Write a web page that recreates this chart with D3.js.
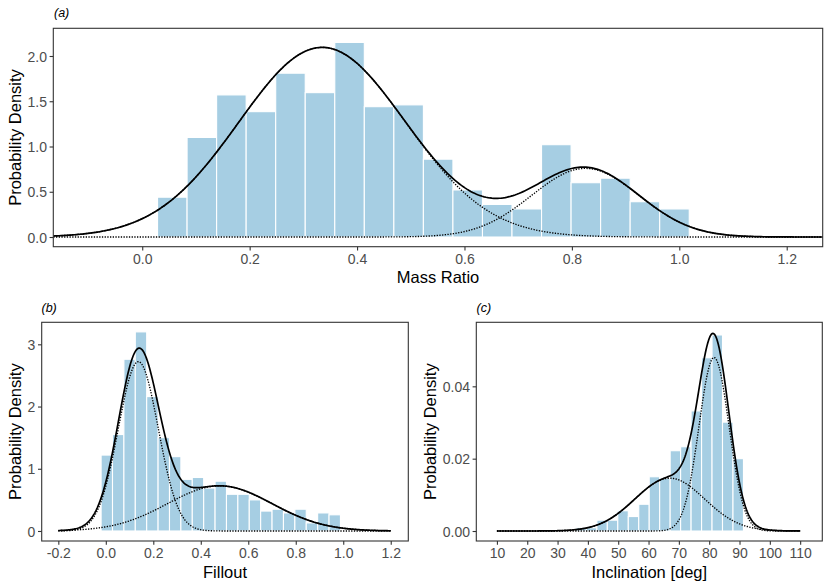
<!DOCTYPE html>
<html>
<head>
<meta charset="utf-8">
<script src="https://cdn.jsdelivr.net/npm/d3@7/dist/d3.min.js"></script>
<style>
  html, body { margin: 0; padding: 0; background: #fff; }
  svg { display: block; font-family: "Liberation Sans", Arial, Helvetica, sans-serif; }
</style>
</head>
<body>
<svg id="chart" width="830" height="588"></svg>
<script>
// ---------- Data ----------
// (a) Mass ratio histogram
const massBinEdges = [0.0285, 0.0835, 0.1385, 0.1935, 0.2485, 0.3035, 0.3585, 0.4135, 0.4685, 0.5235,
                      0.5785, 0.6335, 0.6885, 0.7435, 0.7985, 0.8535, 0.9085, 0.9635, 1.0185];
const massDensity = [0.44, 1.10, 1.57, 1.385, 1.81, 1.595, 2.15, 1.44, 1.46, 0.86,
                     0.52, 0.36, 0.31, 1.02, 0.60, 0.65, 0.39, 0.31];
const massComponents = [
  { mean: 0.335, sd: 0.155, weight: 0.814 },
  { mean: 0.825, sd: 0.100, weight: 0.190 }
];
const massTicksX = [0.0, 0.2, 0.4, 0.6, 0.8, 1.0, 1.2];
const massTicksY = [0.0, 0.5, 1.0, 1.5, 2.0];

// (b) Fillout histogram
const filloutBinEdges = [-0.0198, 0.0282, 0.0762, 0.1242, 0.1722, 0.2202, 0.2682, 0.3162, 0.3642, 0.4122,
                         0.4602, 0.5082, 0.5562, 0.6042, 0.6522, 0.7002, 0.7482, 0.7962, 0.8442, 0.8922,
                         0.9402, 0.9882];
const filloutDensity = [1.22, 1.55, 2.76, 3.20, 2.16, 1.50, 1.195, 0.83, 0.86, 0.69,
                        0.80, 0.59, 0.59, 0.50, 0.32, 0.35, 0.29, 0.35, 0.13, 0.29, 0.26];
const filloutComponents = [
  { mean: 0.137, sd: 0.084, weight: 0.573 },
  { mean: 0.480, sd: 0.220, weight: 0.400 }
];
const filloutTicksX = [-0.2, 0.0, 0.2, 0.4, 0.6, 0.8, 1.0, 1.2];
const filloutTicksY = [0, 1, 2, 3];

// (c) Inclination histogram
const incBinEdges = [36.05, 39.50, 42.96, 46.41, 49.86, 53.32, 56.77, 60.22, 63.67, 67.13,
                     70.58, 74.03, 77.49, 80.94, 84.39, 87.85, 91.30];
const incDensity = [0.0009, 0.0009, 0.0030, 0.0030, 0.0056, 0.0040, 0.0074, 0.0150, 0.0146, 0.0222,
                    0.0233, 0.0332, 0.0479, 0.0542, 0.0301, 0.0200];
const incComponents = [
  { mean: 67.0, sd: 11.5, weight: 0.421 },
  { mean: 81.6, sd: 4.94, weight: 0.594 }
];
const incTicksX = [10, 20, 30, 40, 50, 60, 70, 80, 90, 100, 110];
const incTicksY = [0.00, 0.02, 0.04];

// ---------- Drawing ----------
const svg = d3.select("#chart");
const BAR_FILL = "#a6cee3";
const FRAME = "#333333";
const TICKTXT = "#4d4d4d";

function normPdf(x, m, s) {
  return Math.exp(-0.5 * ((x - m) / s) ** 2) / (s * Math.sqrt(2 * Math.PI));
}
// plain hyphen-minus like the reference
const fmt = spec => { const f = d3.format(spec); return v => f(v).replace("\u2212", "-"); };

function drawPanel(cfg) {
  const g = svg.append("g");
  const x = d3.scaleLinear().domain(cfg.xDomain).range([cfg.left, cfg.right]);
  const y = d3.scaleLinear().domain(cfg.yDomain).range([cfg.bottom, cfg.top]);

  const clipId = "clip-" + cfg.tag.replace(/[()]/g, "");
  svg.append("clipPath").attr("id", clipId)
    .append("rect").attr("x", cfg.left).attr("y", cfg.top)
    .attr("width", cfg.right - cfg.left).attr("height", cfg.bottom - cfg.top);
  const plot = g.append("g").attr("clip-path", `url(#${clipId})`);

  // bars
  const bins = cfg.density.map((d, i) => ({ x0: cfg.edges[i], x1: cfg.edges[i + 1], v: d }));
  plot.selectAll("rect.bar").data(bins).enter().append("rect")
    .attr("class", "bar")
    .attr("x", d => x(d.x0))
    .attr("width", d => x(d.x1) - x(d.x0))
    .attr("y", d => y(d.v))
    .attr("height", d => y(0) - y(d.v))
    .attr("fill", BAR_FILL)
    .attr("stroke", "#ffffff")
    .attr("stroke-width", 1.1);

  // curves
  const n = 400;
  const xs = d3.range(n + 1).map(i => cfg.curveRange[0] + (cfg.curveRange[1] - cfg.curveRange[0]) * i / n);
  const line = d3.line().x(d => x(d[0])).y(d => y(d[1]));
  cfg.components.forEach(c => {
    const pts = xs.map(v => [v, c.weight * normPdf(v, c.mean, c.sd)]);
    plot.append("path").attr("d", line(pts))
      .attr("fill", "none").attr("stroke", "#000").attr("stroke-width", 1.35)
      .attr("stroke-dasharray", "1.3,1.4");
  });
  const totalPts = xs.map(v => [v, d3.sum(cfg.components, c => c.weight * normPdf(v, c.mean, c.sd))]);
  plot.append("path").attr("d", line(totalPts))
    .attr("fill", "none").attr("stroke", "#000").attr("stroke-width", 1.7);

  // frame
  g.append("rect").attr("x", cfg.left).attr("y", cfg.top)
    .attr("width", cfg.right - cfg.left).attr("height", cfg.bottom - cfg.top)
    .attr("fill", "none").attr("stroke", FRAME).attr("stroke-width", 1.1);

  // axes
  const xAxis = g.append("g").attr("transform", `translate(0,${cfg.bottom})`)
    .call(d3.axisBottom(x).tickValues(cfg.ticksX).tickFormat(cfg.fmtX).tickSize(3.7).tickPadding(3.3));
  const yAxis = g.append("g").attr("transform", `translate(${cfg.left},0)`)
    .call(d3.axisLeft(y).tickValues(cfg.ticksY).tickFormat(cfg.fmtY).tickSize(3.7).tickPadding(2.6));
  [xAxis, yAxis].forEach(a => {
    a.select(".domain").remove();
    a.selectAll(".tick line").attr("stroke", FRAME).attr("stroke-width", 1.1);
    a.selectAll(".tick text").attr("fill", TICKTXT).style("font-size", "14px")
      .style("font-family", '"Liberation Sans", Arial, sans-serif');
  });
  yAxis.selectAll(".tick text").attr("dy", "0.36em");

  // titles
  g.append("text").attr("x", (cfg.left + cfg.right) / 2).attr("y", cfg.xTitleY)
    .attr("text-anchor", "middle").style("font-size", "16.5px").attr("fill", "#000")
    .text(cfg.xTitle);
  g.append("text").attr("transform", `translate(${cfg.yTitleX},${(cfg.top + cfg.bottom) / 2}) rotate(-90)`)
    .attr("text-anchor", "middle").style("font-size", "16.5px").attr("fill", "#000")
    .text("Probability Density");
  g.append("text").attr("x", cfg.tagX).attr("y", cfg.tagY)
    .style("font-size", "12.5px").style("font-style", "italic").attr("fill", "#000")
    .text(cfg.tag);
}

drawPanel({
  tag: "(a)", tagX: 54, tagY: 16.5,
  left: 53.3, right: 822.7, top: 28.3, bottom: 246.7,
  xDomain: [-0.1656, 1.267], yDomain: [-0.107, 2.306],
  edges: massBinEdges, density: massDensity, components: massComponents,
  curveRange: [-0.1656, 1.267],
  ticksX: massTicksX, ticksY: massTicksY,
  fmtX: fmt(".1f"), fmtY: fmt(".1f"),
  xTitle: "Mass Ratio", xTitleY: 282.5, yTitleX: 20.5
});

drawPanel({
  tag: "(b)", tagX: 41.5, tagY: 311.5,
  left: 41.7, right: 408.3, top: 322.3, bottom: 541,
  xDomain: [-0.27, 1.274], yDomain: [-0.161, 3.354],
  edges: filloutBinEdges, density: filloutDensity, components: filloutComponents,
  curveRange: [-0.2, 1.2],
  ticksX: filloutTicksX, ticksY: filloutTicksY,
  fmtX: fmt(".1f"), fmtY: fmt("d"),
  xTitle: "Fillout", xTitleY: 577.5, yTitleX: 20.5
});

drawPanel({
  tag: "(c)", tagX: 476.5, tagY: 311.5,
  left: 476.3, right: 822.3, top: 322.3, bottom: 541,
  xDomain: [3.2, 117.3], yDomain: [-0.00276, 0.0577],
  edges: incBinEdges, density: incDensity, components: incComponents,
  curveRange: [10, 110],
  ticksX: incTicksX, ticksY: incTicksY,
  fmtX: fmt("d"), fmtY: fmt(".2f"),
  xTitle: "Inclination [deg]", xTitleY: 577.5, yTitleX: 435.5
});
</script>
</body>
</html>
